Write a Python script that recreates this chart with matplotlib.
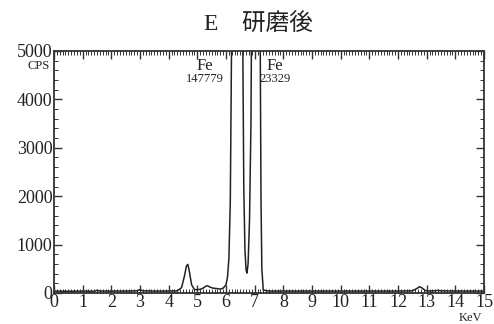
import matplotlib
matplotlib.use("Agg")
import matplotlib.pyplot as plt
from matplotlib.ticker import MultipleLocator

plt.rcParams['font.family'] = ['Liberation Serif', 'Noto Sans CJK JP']

# spectrum (keV, cps)
kev = [0.0, 0.5, 1.0, 1.4, 1.5, 1.6, 2.0, 2.5, 2.9, 3.0, 3.1, 3.5, 4.0, 4.3,
       4.45, 4.55, 4.62, 4.67, 4.72, 4.8, 4.9, 5.0, 5.1, 5.2, 5.3, 5.35, 5.45,
       5.55, 5.7, 5.8, 5.9, 6.0, 6.05, 6.1, 6.15, 6.2, 6.4, 6.58, 6.62, 6.66,
       6.7, 6.73, 6.77, 6.82, 6.87, 6.9, 7.05, 7.19, 7.22, 7.25, 7.3, 7.5,
       8.0, 9.0, 10.0, 11.0, 12.0, 12.5, 12.65, 12.75, 12.85, 12.95, 13.1,
       13.3, 13.4, 13.5, 14.0, 15.0]
cps = [40, 35, 40, 35, 55, 40, 40, 40, 45, 70, 45, 40, 40, 45,
       110, 350, 560, 590, 450, 170, 70, 70, 75, 100, 140, 150, 120,
       100, 90, 80, 100, 170, 320, 700, 1900, 5600, 147779, 5600, 2200, 900,
       480, 410, 600, 1500, 3500, 6500, 23329, 5600, 2000, 500, 60, 40,
       40, 40, 40, 40, 40, 45, 90, 130, 100, 50, 40,
       45, 55, 45, 40, 40]

peak_names = ['Fe', 'Fe']
peak_counts = ['147779', '23329']
peak_x = [5.27, 7.7]

fig = plt.figure(figsize=(4.94, 3.24), dpi=100)
ax = fig.add_axes([0.1093, 0.0957, 0.8705, 0.7469])

ax.plot(kev, cps, color='#222222', lw=1.1)

ax.set_xlim(0, 15)
ax.set_ylim(0, 5000)
ax.xaxis.set_major_locator(MultipleLocator(1))
ax.xaxis.set_minor_locator(MultipleLocator(0.1))
ax.yaxis.set_major_locator(MultipleLocator(1000))
ax.yaxis.set_minor_locator(MultipleLocator(200))
ax.tick_params(which='both', direction='in', top=True, right=True,
               color='#333333', labelsize=13, labelcolor='#222222')
ax.tick_params(which='major', length=6, width=1)
ax.tick_params(which='minor', length=3, width=0.7)
ax.tick_params(axis='x', pad=1)
ax.tick_params(axis='y', pad=1)
for s in ax.spines.values():
    s.set_color('#333333')
    s.set_linewidth(1.3)

for i in range(2):
    ax.text(peak_x[i], 4690, peak_names[i], ha='center', va='center',
            fontsize=12, color='#222222')
    ax.text(peak_x[i], 4420, peak_counts[i], ha='center', va='center',
            fontsize=9, color='#222222')

fig.text(50 / 494, 1 - 66 / 324, 'CPS', ha='right', va='center',
         fontsize=9, color='#222222')
fig.text(470 / 494, 1 - 318 / 324, 'KeV', ha='center', va='center',
         fontsize=9, color='#222222')
fig.text(258 / 494, 1 - 25 / 324, 'E\u3000研磨後', ha='center', va='center',
         fontsize=17, color='#222222')

fig.savefig('out.png', dpi=100)
